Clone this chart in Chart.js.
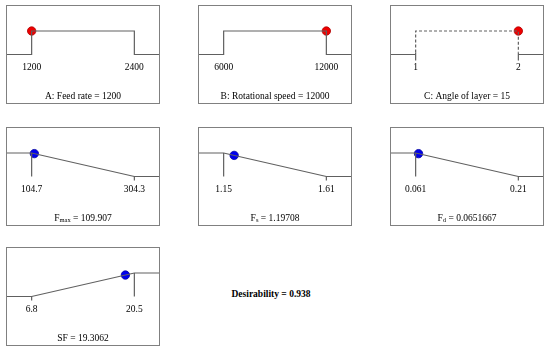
<!DOCTYPE html>
<html>
<head>
<meta charset="utf-8">
<script src="https://cdn.jsdelivr.net/npm/chart.js@4.4.1/dist/chart.umd.min.js"></script>
<style>
  html, body { margin: 0; padding: 0; background: #fff; }
  body { width: 550px; height: 353px; position: relative; overflow: hidden; }
  .panel { position: absolute; width: 152px; height: 97px; border: 1px solid #808080; }
  .panel canvas { display: block; }
  #desir { position: absolute; left: 200px; width: 142px; top: 286px; text-align: center;
           font: bold 9.5px "Liberation Serif", "Times New Roman", serif; color: #000; line-height: 16px; }
</style>
</head>
<body>
<div id="desir"></div>
<script>
// ---- data ----
const panelTitles = [
  [['A: Feed rate = 1200']],
  [['B: Rotational speed = 12000']],
  [['C: Angle of layer = 15']],
  [['F'], ['max', 1], [' = 109.907']],
  [['F'], ['s', 1], [' = 1.19708']],
  [['F'], ['d', 1], [' = 0.0651667']],
  [['SF = 19.3062']]
];
const lowLimits  = [1200, 6000, 1, 104.7, 1.15, 0.061, 6.8];
const highLimits = [2400, 12000, 2, 304.3, 1.61, 0.21, 20.5];
const tickLabels = [
  ['1200', '2400'], ['6000', '12000'], ['1', '2'],
  ['104.7', '304.3'], ['1.15', '1.61'], ['0.061', '0.21'], ['6.8', '20.5']
];
const currentValues = [1200, 12000, 2, 109.907, 1.19708, 0.0651667, 19.3062];
const currentDesirability = [1, 1, 1, 0.974, 0.898, 0.972, 0.913];
// desirability just outside / at each limit
const dBelowLow  = [0, 0, 0, 1, 1, 1, 0];
const dAtLow     = [1, 1, 1, 1, 1, 1, 0];
const dAtHigh    = [1, 1, 1, 0, 0, 0, 1];
const dAboveHigh = [0, 0, 0, 0, 0, 0, 1];
const isFactor   = [true, true, true, false, false, false, false];
const isCategoric = [false, false, true, false, false, false, false];
const desirability = 0.938;

// ---- layout ----
const panelPos = [[6, 5], [198, 5], [390, 5], [6, 127], [198, 127], [390, 127], [6, 247]];
const W = 152, H = 97;
const LINE = '#606060';

document.getElementById('desir').textContent = 'Desirability = ' + desirability;

const subTitlePlugin = {
  id: 'subTitle',
  afterDraw(chart, args, opts) {
    const ctx = chart.ctx;
    const parts = opts.parts;
    const mainFont = '9.5px "Liberation Serif", "Times New Roman", serif';
    const subFont = '6.5px "Liberation Serif", "Times New Roman", serif';
    ctx.save();
    ctx.fillStyle = '#000';
    ctx.textBaseline = 'alphabetic';
    let total = 0;
    parts.forEach(p => { ctx.font = p[1] ? subFont : mainFont; total += ctx.measureText(p[0]).width; });
    let x = chart.width / 2 - total / 2;
    const y = opts.y;
    parts.forEach(p => {
      ctx.font = p[1] ? subFont : mainFont;
      ctx.fillText(p[0], x, p[1] ? y + 1.5 : y);
      x += ctx.measureText(p[0]).width;
    });
    ctx.restore();
  }
};

panelPos.forEach((pos, i) => {
  const div = document.createElement('div');
  div.className = 'panel';
  div.style.left = pos[0] + 'px';
  div.style.top = pos[1] + 'px';
  const cv = document.createElement('canvas');
  cv.width = W; cv.height = H;
  cv.style.width = W + 'px'; cv.style.height = H + 'px';
  div.appendChild(cv);
  document.body.appendChild(div);

  const lo = lowLimits[i], hi = highLimits[i], r = hi - lo;
  const xmin = lo - 0.24 * r, xmax = hi + 0.24 * r;

  const datasets = [];
  const lineStyle = { borderColor: LINE, borderWidth: 1.2, pointRadius: 0, fill: false, tension: 0, clip: false };
  if (isCategoric[i]) {
    datasets.push(Object.assign({ data: [
      {x: xmin, y: dBelowLow[i]}, {x: lo, y: dBelowLow[i]}, {x: lo, y: null},
      {x: hi, y: dAboveHigh[i]}, {x: xmax, y: dAboveHigh[i]}] , spanGaps: false }, lineStyle));
    datasets.push(Object.assign({ data: [
      {x: lo, y: dBelowLow[i] + 0.08}, {x: lo, y: dAtLow[i]}, {x: hi, y: dAtHigh[i]}, {x: hi, y: dAboveHigh[i] + 0.08}],
      borderDash: [3, 2] }, lineStyle));
    datasets.push(Object.assign({ data: [
      {x: lo, y: 0.08}, {x: lo, y: -0.26}, {x: lo, y: null}, {x: hi, y: 0.08}, {x: hi, y: -0.26}], spanGaps: false }, lineStyle));
  } else {
    datasets.push(Object.assign({ data: [
      {x: xmin, y: dBelowLow[i]}, {x: lo, y: dBelowLow[i]}, {x: lo, y: dAtLow[i]},
      {x: hi, y: dAtHigh[i]}, {x: hi, y: dAboveHigh[i]}, {x: xmax, y: dAboveHigh[i]}] }, lineStyle));
    if (!isFactor[i]) {
      const tk = [];
      [[lo, dAtLow[i]], [hi, dAtHigh[i]]].forEach(([xv, dv], k) => {
        if (dv === 1) { tk.push({x: xv, y: 1}, {x: xv, y: 0}); }
        else { tk.push({x: xv, y: 0}, {x: xv, y: -0.17}); }
        if (k === 0) tk.push({x: xv, y: null});
      });
      datasets.push(Object.assign({ data: tk, spanGaps: false }, lineStyle));
    }
  }
  const dotColor = isFactor[i] ? '#ee0000' : '#0000ee';
  const dotBorder = isFactor[i] ? '#b00000' : '#0000a0';
  datasets.push({ data: [{x: currentValues[i], y: currentDesirability[i]}], showLine: false, clip: false,
    pointRadius: 4.2, pointBackgroundColor: dotColor, pointBorderColor: dotBorder, pointBorderWidth: 0.8 });

  new Chart(cv, {
    type: 'line',
    data: { datasets },
    plugins: [subTitlePlugin],
    options: {
      responsive: false, animation: false, devicePixelRatio: 1,
      layout: { padding: 0, autoPadding: false },
      events: [],
      plugins: {
        legend: { display: false }, tooltip: { enabled: false }, title: { display: false },
        subTitle: { parts: panelTitles[i], y: 92.5 }
      },
      scales: {
        x: {
          type: 'linear', min: xmin, max: xmax, position: { y: 0 },
          grid: { display: false, drawTicks: false, tickLength: 0 },
          border: { display: false },
          afterBuildTicks: s => { s.ticks = [{ value: lo }, { value: hi }]; },
          ticks: {
            autoSkip: false, maxRotation: 0, padding: 7, color: '#000',
            font: { family: '"Liberation Serif", "Times New Roman", serif', size: 9.5 },
            callback: (v, idx) => tickLabels[i][idx]
          }
        },
        y: { type: 'linear', min: -2.064, max: 2.064, display: false }
      }
    }
  });
});
</script>
</body>
</html>
